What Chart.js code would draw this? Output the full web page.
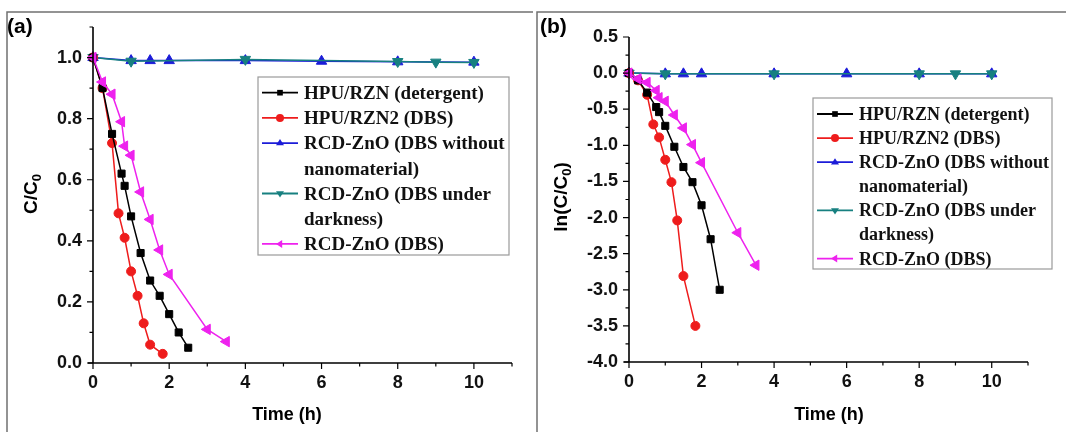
<!DOCTYPE html>
<html>
<head>
<meta charset="utf-8">
<script src="https://cdn.jsdelivr.net/npm/chart.js@4.4.0/dist/chart.umd.min.js"></script>
<style>
  body { margin: 0; background: #fff; }
  #wrap { position: relative; width: 1066px; height: 432px; overflow: hidden; background: #fff; }
  canvas { position: absolute; top: 0; }
  #chartA { left: 0; }
  #chartB { left: 533px; }
</style>
</head>
<body>
<div id="wrap">
  <canvas id="chartA" width="533" height="432"></canvas>
  <canvas id="chartB" width="533" height="432"></canvas>
</div>
<script>
// time (h) and C/C0, ln(C/C0) for each run
const seriesNames = ['HPU/RZN (detergent)', 'HPU/RZN2 (DBS)', 'RCD-ZnO (DBS without nanomaterial)',
                     'RCD-ZnO (DBS under darkness)', 'RCD-ZnO (DBS)'];

const timeRZN = [0, 0.25, 0.5, 0.75, 0.83, 1, 1.25, 1.5, 1.75, 2, 2.25, 2.5];
const ratioRZN = [1, 0.90, 0.75, 0.62, 0.58, 0.48, 0.36, 0.27, 0.22, 0.16, 0.10, 0.05];
const lnRZN = [0, -0.10, -0.27, -0.47, -0.54, -0.73, -1.02, -1.30, -1.51, -1.83, -2.30, -3.00];

const timeRZN2 = [0, 0.25, 0.5, 0.67, 0.83, 1, 1.17, 1.33, 1.5, 1.83];
const ratioRZN2 = [1, 0.90, 0.72, 0.49, 0.41, 0.30, 0.22, 0.13, 0.06, 0.03];
const lnRZN2 = [0, -0.10, -0.30, -0.71, -0.89, -1.20, -1.51, -2.04, -2.81, -3.50];

const timeNoNano = [0, 1, 1.5, 2, 4, 6, 8, 10];
const ratioNoNano = [1, 0.99, 0.99, 0.99, 0.99, 0.988, 0.986, 0.985];
const lnNoNano = [0, -0.01, -0.01, -0.01, -0.01, -0.01, -0.01, -0.01];

const timeDark = [0, 1, 4, 8, 9, 10];
const ratioDark = [1, 0.988, 0.994, 0.987, 0.985, 0.984];
const lnDark = [0, -0.01, -0.01, -0.01, -0.01, -0.01];

const timeDBS = [0, 0.25, 0.5, 0.75, 0.83, 1, 1.25, 1.5, 1.75, 2, 3, 3.5];
const ratioDBS = [1, 0.92, 0.88, 0.79, 0.71, 0.68, 0.56, 0.47, 0.37, 0.29, 0.11, 0.07];
const lnDBS = [0, -0.08, -0.13, -0.24, -0.34, -0.39, -0.58, -0.76, -0.99, -1.24, -2.21, -2.66];

const colors = ['#000000', '#ee1c1c', '#1c1cd8', '#178080', '#ee22ee'];
const markers = [
  {style: 'rect', r: 5, rot: 0},
  {style: 'circle', r: 4.5, rot: 0},
  {style: 'triangle', r: 6, rot: 0},
  {style: 'triangle', r: 6, rot: 180},
  {style: 'triangle', r: 6, rot: 270}
];
const drawOrder = [2, 3, 5, 4, 1];

const SANS = '"Liberation Sans", Arial, sans-serif';
const SERIF = '"Liberation Serif", "Times New Roman", serif';

function pts(xs, ys) {
  return xs.map((x, i) => ({x: x, y: ys[i]}));
}

function makeDatasets(series) {
  return series.map((s, i) => ({
    label: seriesNames[i],
    data: pts(s[0], s[1]),
    borderColor: colors[i],
    backgroundColor: colors[i],
    borderWidth: 1.5,
    pointStyle: markers[i].style,
    pointRadius: markers[i].r,
    pointRotation: markers[i].rot,
    pointBorderWidth: 1,
    pointBackgroundColor: colors[i],
    pointBorderColor: colors[i],
    tension: 0,
    clip: false,
    order: drawOrder[i]
  }));
}

function drawMarker(ctx, m, color, x, y, r) {
  ctx.save();
  ctx.fillStyle = color;
  ctx.translate(x, y);
  ctx.rotate(m.rot * Math.PI / 180);
  ctx.beginPath();
  if (m.style === 'rect') {
    const s = r * Math.SQRT1_2;
    ctx.rect(-s, -s, 2 * s, 2 * s);
  } else if (m.style === 'circle') {
    ctx.arc(0, 0, r, 0, Math.PI * 2);
  } else {
    ctx.moveTo(0, -r);
    ctx.lineTo(r, r * 0.55);
    ctx.lineTo(-r, r * 0.55);
    ctx.closePath();
  }
  ctx.fill();
  ctx.restore();
}

function wrapText(ctx, text, maxW) {
  const words = text.split(' ');
  const lines = [];
  let cur = '';
  words.forEach(w => {
    const test = cur ? cur + ' ' + w : w;
    if (ctx.measureText(test).width > maxW && cur) {
      lines.push(cur);
      cur = w;
    } else {
      cur = test;
    }
  });
  lines.push(cur);
  return lines;
}

function decor(cfg) {
  return {
    id: 'decor' + cfg.tag,
    afterDraw(chart) {
      const ctx = chart.ctx;
      const a = chart.chartArea;
      const xs = chart.scales.x, ys = chart.scales.y;
      ctx.save();

      // panel frame
      ctx.strokeStyle = '#707070';
      ctx.lineWidth = 1.5;
      ctx.beginPath();
      ctx.moveTo(cfg.frame[0], 432);
      ctx.lineTo(cfg.frame[0], cfg.frame[1]);
      ctx.lineTo(cfg.frame[2], cfg.frame[1]);
      ctx.stroke();

      // axis lines
      ctx.strokeStyle = '#000';
      ctx.lineWidth = 1.6;
      ctx.beginPath();
      ctx.moveTo(a.left - 5, a.bottom);
      ctx.lineTo(a.right, a.bottom);
      ctx.moveTo(a.left, a.top);
      ctx.lineTo(a.left, a.bottom);
      ctx.stroke();

      // ticks, long on labelled values
      ctx.lineWidth = 1.2;
      ctx.beginPath();
      xs.ticks.forEach(t => {
        const px = xs.getPixelForValue(t.value);
        const len = t.label !== '' ? 6 : 3.5;
        ctx.moveTo(px, a.bottom);
        ctx.lineTo(px, a.bottom + len);
      });
      ys.ticks.forEach(t => {
        const py = ys.getPixelForValue(t.value);
        const len = t.label !== '' ? 6 : 3.5;
        ctx.moveTo(a.left - len, py);
        ctx.lineTo(a.left, py);
      });
      ctx.stroke();

      // panel letter
      ctx.fillStyle = '#000';
      ctx.font = 'bold 21px ' + SANS;
      ctx.textAlign = 'left';
      ctx.textBaseline = 'alphabetic';
      ctx.fillText(cfg.letter, cfg.letterX, 33);

      // x title
      ctx.font = 'bold 18px ' + SANS;
      ctx.textAlign = 'center';
      ctx.fillText('Time (h)', cfg.xTitle[0], cfg.xTitle[1] + 6.5);

      // y title with subscript, rotated
      ctx.save();
      ctx.translate(cfg.yTitle[0], cfg.yTitle[1]);
      ctx.rotate(-Math.PI / 2);
      const mainFont = 'bold 19px ' + SANS;
      const subFont = 'bold 13px ' + SANS;
      let total = 0;
      cfg.yParts.forEach(p => {
        ctx.font = p.sub ? subFont : mainFont;
        total += ctx.measureText(p.t).width;
      });
      let x = -total / 2;
      ctx.textAlign = 'left';
      cfg.yParts.forEach(p => {
        ctx.font = p.sub ? subFont : mainFont;
        ctx.fillText(p.t, x, p.sub ? 11 : 7);
        x += ctx.measureText(p.t).width;
      });
      ctx.restore();

      // legend box
      const L = cfg.legend;
      ctx.fillStyle = '#fff';
      ctx.fillRect(L.x, L.y, L.w, L.h);
      ctx.strokeStyle = '#9a9a9a';
      ctx.lineWidth = 1.2;
      ctx.strokeRect(L.x, L.y, L.w, L.h);
      ctx.font = 'bold ' + L.font + 'px ' + SERIF;
      ctx.textAlign = 'left';
      let row = 0;
      seriesNames.forEach((name, i) => {
        const cy = L.row0 + row * L.rowH;
        ctx.strokeStyle = colors[i];
        ctx.lineWidth = 1.8;
        ctx.beginPath();
        ctx.moveTo(L.x + 4, cy);
        ctx.lineTo(L.x + 4 + L.sample, cy);
        ctx.stroke();
        drawMarker(ctx, markers[i], colors[i], L.x + 4 + L.sample / 2, cy, 4);
        ctx.fillStyle = '#111';
        const lines = wrapText(ctx, name, L.textW);
        lines.forEach(line => {
          ctx.fillText(line, L.x + 10 + L.sample, L.row0 + row * L.rowH + L.font * 0.33);
          row++;
        });
      });

      ctx.restore();
    }
  };
}

function axisTicks(step, labelEvery, digits) {
  return {
    stepSize: step,
    autoSkip: false,
    maxTicksLimit: 100,
    maxRotation: 0,
    color: '#111',
    font: {family: SANS, weight: 'bold', size: 18},
    callback: function (v) {
      const k = Math.round(v / step);
      if (k % labelEvery !== 0) return '';
      return digits ? v.toFixed(digits) : String(Math.round(v));
    }
  };
}

function makeChart(id, series, yMin, yMax, yStep, yEvery, yAxisW, xAxisH, padding, plugin) {
  return new Chart(document.getElementById(id).getContext('2d'), {
    type: 'line',
    data: {datasets: makeDatasets(series)},
    options: {
      responsive: false,
      animation: false,
      devicePixelRatio: 1,
      layout: {padding: padding},
      plugins: {legend: {display: false}, tooltip: {enabled: false}},
      scales: {
        x: {
          type: 'linear',
          min: 0,
          max: 11,
          grid: {display: false, drawTicks: false},
          border: {display: false},
          ticks: Object.assign(axisTicks(1, 2, 0), {padding: 9}),
          afterFit: s => { s.height = xAxisH; }
        },
        y: {
          type: 'linear',
          min: yMin,
          max: yMax,
          grid: {display: false, drawTicks: false},
          border: {display: false},
          ticks: Object.assign(axisTicks(yStep, yEvery, 1), {padding: 11}),
          afterFit: s => { s.width = yAxisW; }
        }
      }
    },
    plugins: [plugin]
  });
}

makeChart('chartA',
  [[timeRZN, ratioRZN], [timeRZN2, ratioRZN2], [timeNoNano, ratioNoNano], [timeDark, ratioDark], [timeDBS, ratioDBS]],
  0, 1.1, 0.1, 2, 93, 69, {left: 0, top: 27, right: 21, bottom: 0},
  decor({
    tag: 'A', frame: [7, 12, 533], letter: '(a)', letterX: 7,
    xTitle: [287, 413], yTitle: [30, 194],
    yParts: [{t: 'C/C', sub: false}, {t: '0', sub: true}],
    legend: {x: 258, y: 77, w: 251, h: 178, row0: 92.7, rowH: 25.2, sample: 36, textW: 205, font: 19}
  }));

makeChart('chartB',
  [[timeRZN, lnRZN], [timeRZN2, lnRZN2], [timeNoNano, lnNoNano], [timeDark, lnDark], [timeDBS, lnDBS]],
  -4, 0.5, 0.25, 2, 96, 70, {left: 0, top: 37, right: 38, bottom: 0},
  decor({
    tag: 'B', frame: [4, 12, 533], letter: '(b)', letterX: 7,
    xTitle: [296, 413], yTitle: [27, 197],
    yParts: [{t: 'ln(C/C', sub: false}, {t: '0', sub: true}, {t: ')', sub: false}],
    legend: {x: 280, y: 98, w: 239, h: 171, row0: 114, rowH: 24.1, sample: 36, textW: 196, font: 18}
  }));
</script>
</body>
</html>
